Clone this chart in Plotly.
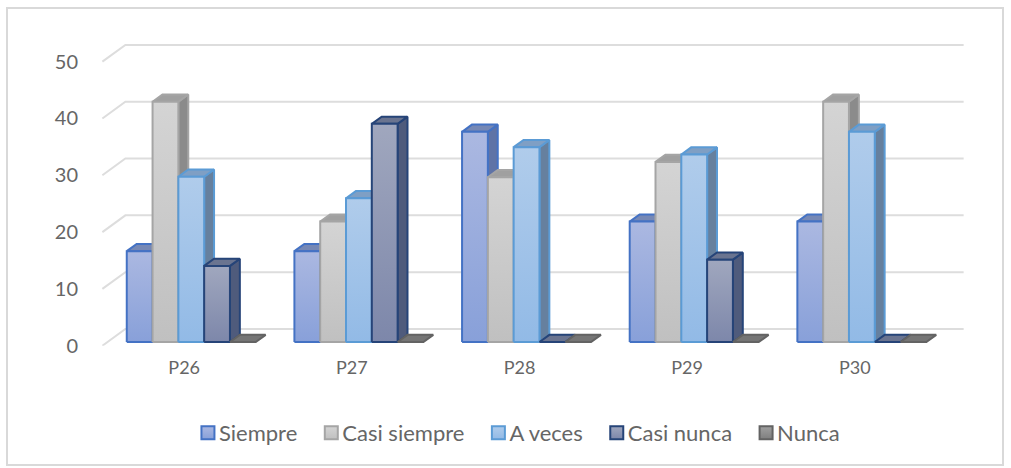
import plotly.graph_objects as go

categories = ["P26", "P27", "P28", "P29", "P30"]
series_names = ["Siempre", "Casi siempre", "A veces", "Casi nunca", "Nunca"]
siempre = [16, 16, 37, 21.2, 21.2]
casi_siempre = [42.3, 21.2, 29, 31.7, 42.3]
a_veces = [29.1, 25.3, 34.3, 33, 37]
casi_nunca = [13.4, 38.4, 0, 14.5, 0]
nunca = [0, 0, 0, 0, 0]
series_values = [siempre, casi_siempre, a_veces, casi_nunca, nunca]
y_ticks = [0, 10, 20, 30, 40, 50]

# style per series: front top colour, front bottom colour, outline, top face, side face
styles = [
    ("#ABB8E1", "#88A0D9", "#4472C4", "#7688B5", "#5F73A6"),
    ("#D4D4D4", "#C0C0C0", "#A5A5A5", "#A0A0A0", "#8B8B8B"),
    ("#B0CCEB", "#92BAE6", "#5B9BD5", "#7F9FC4", "#66809E"),
    ("#A0A7BE", "#7D87AA", "#264478", "#6A7490", "#4F5B7C"),
    ("#A0A0A0", "#7F7F7F", "#636363", "#757575", "#666666"),
]

SY = 1.0246
W, H = 1011, 468 * SY
PX_X = 167.65        # pixels per category
PX_Y = 5.67 * SY     # pixels per value unit
X0_PX = 186.2        # pixel of category 0
Y0_PX = 345 * SY     # pixel of value 0 on the front floor edge
LEFT_PX, RIGHT_PX = 79, 980
DX = 23 / PX_X       # oblique shift for depth 1
DY = 16.7 * SY / PX_Y
BAR_W = 25.8 / PX_X
D_FRONT, D_BACK = 0.22, 0.65


def P(x, v, d):
    return x + d * DX, v + d * DY


def poly(points):
    xs, ys = zip(*[P(*p) for p in points])
    return list(xs) + [xs[0]], list(ys) + [ys[0]]


fig = go.Figure()

# floor and back wall gridlines
for t in y_ticks:
    xs, ys = zip(P(-0.5, t, 0), P(-0.5, t, 1), P(4.5, t, 1))
    fig.add_trace(go.Scatter(x=xs, y=ys, mode="lines", showlegend=False, hoverinfo="skip",
                             line=dict(color="#DDDDDD", width=2)))

for c in range(len(categories)):
    for s, vals in enumerate(series_values):
        top_c, bot_c, edge, top_f, side_f = styles[s]
        v = vals[c]
        x1 = c + (s - 2.5) * BAR_W
        x2 = x1 + BAR_W
        faces = []
        if v > 0:
            faces.append((poly([(x2, 0, D_FRONT), (x2, 0, D_BACK), (x2, v, D_BACK), (x2, v, D_FRONT)]),
                          dict(fillcolor=side_f)))
        faces.append((poly([(x1, v, D_FRONT), (x2, v, D_FRONT), (x2, v, D_BACK), (x1, v, D_BACK)]),
                      dict(fillcolor=top_f)))
        if v > 0:
            faces.append((poly([(x1, 0, D_FRONT), (x2, 0, D_FRONT), (x2, v, D_FRONT), (x1, v, D_FRONT)]),
                          dict(fillgradient=dict(type="vertical",
                                                 colorscale=[[0, bot_c], [1, top_c]]))))
        for (xs, ys), fill in faces:
            fig.add_trace(go.Scatter(x=xs, y=ys, mode="lines", fill="toself", showlegend=False,
                                     legendgroup=series_names[s], hoverinfo="skip",
                                     line=dict(color=edge, width=2), **fill))

# legend entries
for s, name in enumerate(series_names):
    top_c, bot_c, edge, _, _ = styles[s]
    fig.add_trace(go.Scatter(x=[None], y=[None], mode="markers", name=name, legendgroup=name,
                             marker=dict(symbol="square", size=13, color=top_c,
                                         angle=90, standoff=9,
                                         gradient=dict(type="vertical", color=bot_c),
                                         line=dict(color=edge, width=2))))

fig.update_layout(
    width=W, height=H,
    margin=dict(l=0, r=0, t=0, b=0),
    paper_bgcolor="white", plot_bgcolor="white",
    font=dict(family="Lato", color="#666666", size=18),
    legend=dict(orientation="h", x=0.177, xanchor="left", y=0.077, yanchor="middle",
                font=dict(size=22, color="#666666"), traceorder="normal",
                bgcolor="rgba(0,0,0,0)"),
    xaxis=dict(domain=[LEFT_PX / W, RIGHT_PX / W],
               range=[(LEFT_PX - X0_PX) / PX_X, (RIGHT_PX - X0_PX) / PX_X],
               tickmode="array", tickvals=list(range(len(categories))), ticktext=categories,
               showgrid=False, zeroline=False, showline=False, ticks="", ticklabelstandoff=9,
               ticklabelshift=-2,
               tickfont=dict(size=18, color="#666666")),
    yaxis=dict(domain=[(H - Y0_PX) / H, 1], range=[0, Y0_PX / PX_Y],
               tickmode="array", tickvals=y_ticks,
               showgrid=False, zeroline=False, showline=False, ticks="",
               tickfont=dict(size=20, color="#666666")),
    shapes=[dict(type="rect", xref="paper", yref="paper", x0=7 / W, x1=1003 / W,
                 y0=1 - 464 * SY / H, y1=1 - 8 * SY / H, line=dict(color="#D9D9D9", width=2),
                 fillcolor="rgba(0,0,0,0)", layer="below")],
)

fig.write_html(
    "out.html",
    config={"displayModeBar": False},
    post_script=(
        "document.documentElement.style.cssText='margin:0;padding:0;overflow:hidden';"
        "document.body.style.cssText='margin:0;padding:0;overflow:hidden';"
    ),
)
